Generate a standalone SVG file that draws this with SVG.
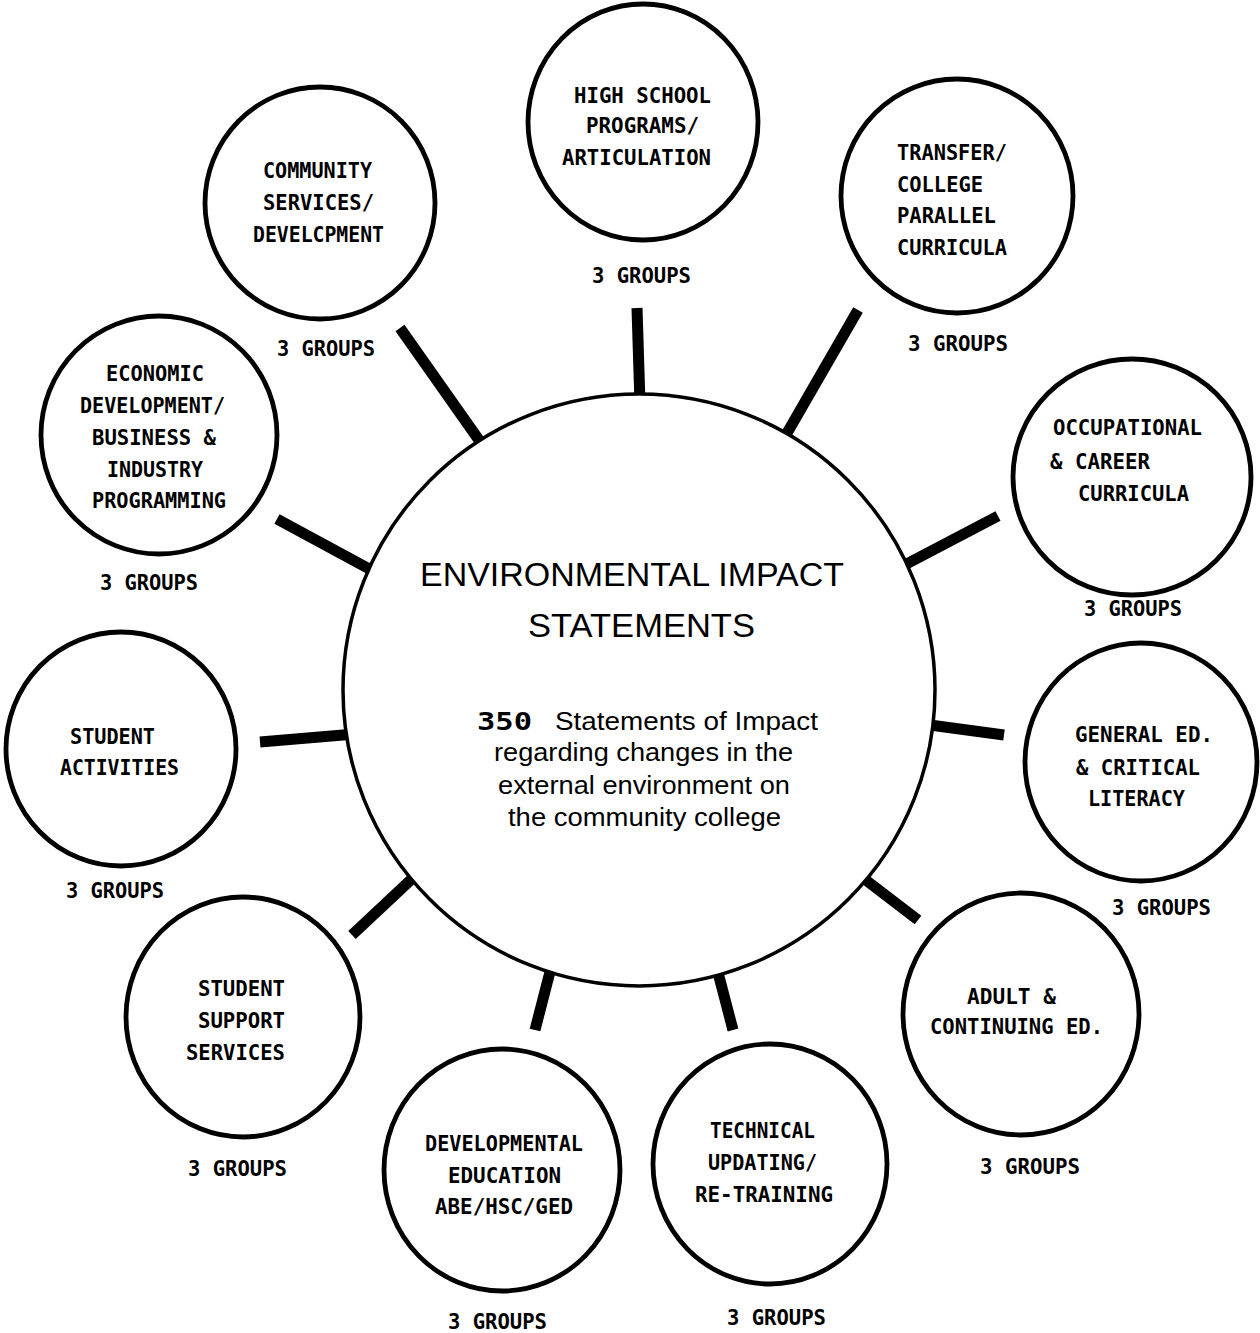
<svg xmlns="http://www.w3.org/2000/svg" width="1260" height="1333" viewBox="0 0 1260 1333">
<style>
.bg{fill:#fff}
.node{fill:none;stroke:#000;stroke-width:4.8}
.hub{fill:#fff;stroke:#000;stroke-width:3.5}
.spoke{stroke:#000;stroke-width:11;stroke-linecap:butt}
.lbl{font-family:"DejaVu Sans Mono","Liberation Mono",monospace;font-weight:bold;font-size:22px;fill:#000}
.title{font-family:"Liberation Sans","DejaVu Sans",sans-serif;font-size:34px;fill:#000}
.body{font-family:"Liberation Sans","DejaVu Sans",sans-serif;font-size:26px;fill:#000}
.num{font-family:"DejaVu Sans Mono","Liberation Mono",monospace;font-weight:bold;font-size:24px;fill:#000}
</style>
<rect class="bg" x="0" y="0" width="1260" height="1333"/>
<g id="connectors">
<line class="spoke" x1="637" y1="308" x2="640" y2="404"/>
<line class="spoke" x1="858" y1="310" x2="783" y2="440"/>
<line class="spoke" x1="998" y1="516" x2="895" y2="570"/>
<line class="spoke" x1="1004" y1="735" x2="915" y2="723"/>
<line class="spoke" x1="918" y1="920" x2="854" y2="871"/>
<line class="spoke" x1="733" y1="1030" x2="716" y2="965"/>
<line class="spoke" x1="535" y1="1030" x2="551" y2="968"/>
<line class="spoke" x1="352" y1="935" x2="416" y2="875"/>
<line class="spoke" x1="260" y1="742" x2="355" y2="734"/>
<line class="spoke" x1="277" y1="519" x2="375" y2="572"/>
<line class="spoke" x1="400" y1="328" x2="486" y2="450"/>
</g>
<g id="hub">
<ellipse class="hub" cx="639" cy="690" rx="296" ry="296"/>
<text class="title" x="420" y="586" textLength="424" lengthAdjust="spacingAndGlyphs">ENVIRONMENTAL IMPACT</text>
<text class="title" x="528" y="637" textLength="227" lengthAdjust="spacingAndGlyphs">STATEMENTS</text>
<text class="num" x="477" y="730" textLength="55" lengthAdjust="spacingAndGlyphs">350</text>
<text class="body" x="555" y="730" textLength="263" lengthAdjust="spacingAndGlyphs">Statements of Impact</text>
<text class="body" x="494" y="761" textLength="299" lengthAdjust="spacingAndGlyphs">regarding changes in the</text>
<text class="body" x="498" y="794" textLength="292" lengthAdjust="spacingAndGlyphs">external environment on</text>
<text class="body" x="508" y="826" textLength="273" lengthAdjust="spacingAndGlyphs">the community college</text>
</g>
<g id="high-school">
<ellipse class="node" cx="643" cy="122" rx="115" ry="118"/>
<text class="lbl" x="574" y="103" textLength="137" lengthAdjust="spacingAndGlyphs">HIGH SCHOOL</text>
<text class="lbl" x="586" y="133" textLength="113" lengthAdjust="spacingAndGlyphs">PROGRAMS/</text>
<text class="lbl" x="562" y="165" textLength="149" lengthAdjust="spacingAndGlyphs">ARTICULATION</text>
<text class="lbl" x="592" y="283" textLength="99" lengthAdjust="spacingAndGlyphs">3 GROUPS</text>
</g>
<g id="community-services">
<ellipse class="node" cx="320" cy="203" rx="115" ry="116"/>
<text class="lbl" x="263" y="178" textLength="109" lengthAdjust="spacingAndGlyphs">COMMUNITY</text>
<text class="lbl" x="263" y="210" textLength="111" lengthAdjust="spacingAndGlyphs">SERVICES/</text>
<text class="lbl" x="253" y="242" textLength="131" lengthAdjust="spacingAndGlyphs">DEVELCPMENT</text>
<text class="lbl" x="277" y="356" textLength="98" lengthAdjust="spacingAndGlyphs">3 GROUPS</text>
</g>
<g id="transfer">
<ellipse class="node" cx="957" cy="196" rx="116" ry="117"/>
<text class="lbl" x="897" y="160" textLength="110" lengthAdjust="spacingAndGlyphs">TRANSFER/</text>
<text class="lbl" x="897" y="192" textLength="86" lengthAdjust="spacingAndGlyphs">COLLEGE</text>
<text class="lbl" x="897" y="223" textLength="99" lengthAdjust="spacingAndGlyphs">PARALLEL</text>
<text class="lbl" x="897" y="255" textLength="110" lengthAdjust="spacingAndGlyphs">CURRICULA</text>
<text class="lbl" x="908" y="351" textLength="100" lengthAdjust="spacingAndGlyphs">3 GROUPS</text>
</g>
<g id="economic-development">
<ellipse class="node" cx="159" cy="435" rx="118" ry="119"/>
<text class="lbl" x="106" y="381" textLength="98" lengthAdjust="spacingAndGlyphs">ECONOMIC</text>
<text class="lbl" x="80" y="413" textLength="145" lengthAdjust="spacingAndGlyphs">DEVELOPMENT/</text>
<text class="lbl" x="92" y="445" textLength="124" lengthAdjust="spacingAndGlyphs">BUSINESS &amp;</text>
<text class="lbl" x="107" y="477" textLength="96" lengthAdjust="spacingAndGlyphs">INDUSTRY</text>
<text class="lbl" x="92" y="508" textLength="134" lengthAdjust="spacingAndGlyphs">PROGRAMMING</text>
<text class="lbl" x="100" y="590" textLength="98" lengthAdjust="spacingAndGlyphs">3 GROUPS</text>
</g>
<g id="occupational">
<ellipse class="node" cx="1132" cy="477" rx="119" ry="118"/>
<text class="lbl" x="1053" y="435" textLength="149" lengthAdjust="spacingAndGlyphs">OCCUPATIONAL</text>
<text class="lbl" x="1050" y="469" textLength="100" lengthAdjust="spacingAndGlyphs">&amp; CAREER</text>
<text class="lbl" x="1078" y="501" textLength="111" lengthAdjust="spacingAndGlyphs">CURRICULA</text>
<text class="lbl" x="1084" y="616" textLength="98" lengthAdjust="spacingAndGlyphs">3 GROUPS</text>
</g>
<g id="student-activities">
<ellipse class="node" cx="121" cy="749" rx="115" ry="117"/>
<text class="lbl" x="70" y="744" textLength="85" lengthAdjust="spacingAndGlyphs">STUDENT</text>
<text class="lbl" x="60" y="775" textLength="119" lengthAdjust="spacingAndGlyphs">ACTIVITIES</text>
<text class="lbl" x="66" y="898" textLength="98" lengthAdjust="spacingAndGlyphs">3 GROUPS</text>
</g>
<g id="general-ed">
<ellipse class="node" cx="1141" cy="762" rx="116" ry="119"/>
<text class="lbl" x="1075" y="742" textLength="138" lengthAdjust="spacingAndGlyphs">GENERAL ED.</text>
<text class="lbl" x="1076" y="775" textLength="124" lengthAdjust="spacingAndGlyphs">&amp; CRITICAL</text>
<text class="lbl" x="1088" y="806" textLength="97" lengthAdjust="spacingAndGlyphs">LITERACY</text>
<text class="lbl" x="1112" y="915" textLength="99" lengthAdjust="spacingAndGlyphs">3 GROUPS</text>
</g>
<g id="student-support">
<ellipse class="node" cx="243" cy="1017" rx="117" ry="120"/>
<text class="lbl" x="198" y="996" textLength="87" lengthAdjust="spacingAndGlyphs">STUDENT</text>
<text class="lbl" x="198" y="1028" textLength="87" lengthAdjust="spacingAndGlyphs">SUPPORT</text>
<text class="lbl" x="186" y="1060" textLength="99" lengthAdjust="spacingAndGlyphs">SERVICES</text>
<text class="lbl" x="188" y="1176" textLength="99" lengthAdjust="spacingAndGlyphs">3 GROUPS</text>
</g>
<g id="adult-continuing">
<ellipse class="node" cx="1021" cy="1014" rx="118" ry="121"/>
<text class="lbl" x="967" y="1004" textLength="89" lengthAdjust="spacingAndGlyphs">ADULT &amp;</text>
<text class="lbl" x="930" y="1034" textLength="173" lengthAdjust="spacingAndGlyphs">CONTINUING ED.</text>
<text class="lbl" x="980" y="1174" textLength="100" lengthAdjust="spacingAndGlyphs">3 GROUPS</text>
</g>
<g id="developmental-education">
<ellipse class="node" cx="502" cy="1170" rx="118" ry="121"/>
<text class="lbl" x="425" y="1151" textLength="158" lengthAdjust="spacingAndGlyphs">DEVELOPMENTAL</text>
<text class="lbl" x="448" y="1183" textLength="113" lengthAdjust="spacingAndGlyphs">EDUCATION</text>
<text class="lbl" x="435" y="1214" textLength="138" lengthAdjust="spacingAndGlyphs">ABE/HSC/GED</text>
<text class="lbl" x="448" y="1329" textLength="99" lengthAdjust="spacingAndGlyphs">3 GROUPS</text>
</g>
<g id="technical-updating">
<ellipse class="node" cx="770" cy="1164" rx="117" ry="120"/>
<text class="lbl" x="710" y="1138" textLength="105" lengthAdjust="spacingAndGlyphs">TECHNICAL</text>
<text class="lbl" x="708" y="1170" textLength="109" lengthAdjust="spacingAndGlyphs">UPDATING/</text>
<text class="lbl" x="695" y="1202" textLength="138" lengthAdjust="spacingAndGlyphs">RE-TRAINING</text>
<text class="lbl" x="727" y="1325" textLength="99" lengthAdjust="spacingAndGlyphs">3 GROUPS</text>
</g>
</svg>
